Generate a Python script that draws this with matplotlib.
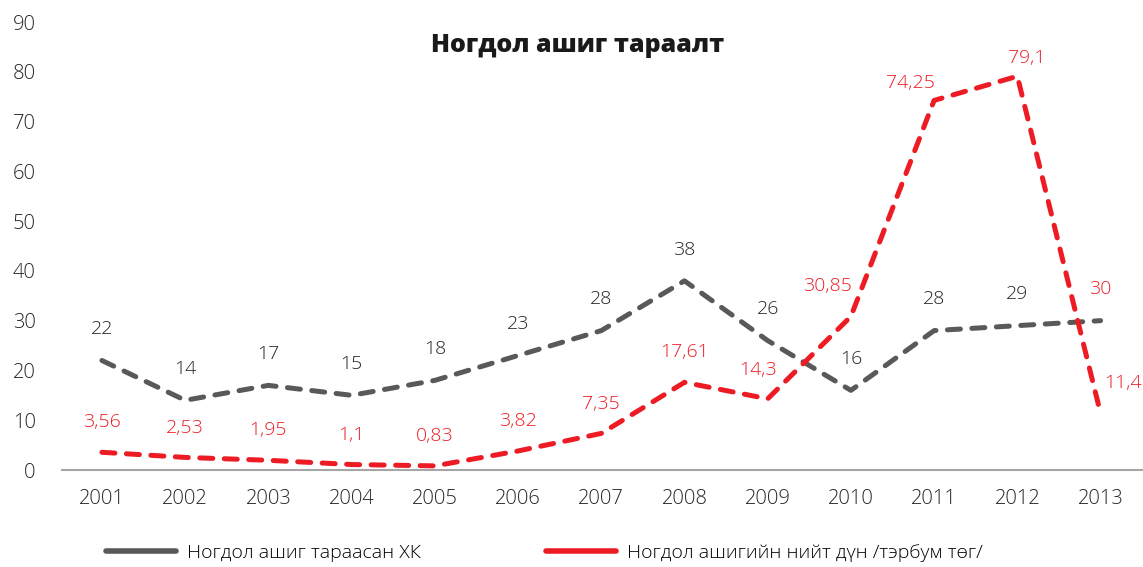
import matplotlib.pyplot as plt
from matplotlib.lines import Line2D

years = ['2001', '2002', '2003', '2004', '2005', '2006', '2007',
         '2008', '2009', '2010', '2011', '2012', '2013']
companies = [22, 14, 17, 15, 18, 23, 28, 38, 26, 16, 28, 29, 30]
dividends = [3.56, 2.53, 1.95, 1.1, 0.83, 3.82, 7.35, 17.61, 14.3, 30.85, 74.25, 79.1, 11.4]

# label offsets in points (dx, dy)
gray_off = [(0, 22.5)] * 13
red_off = [(0, 21.5)] * 8 + [(-7, 21), (-17, 22), (-17, 12.5), (6.5, 13), (16.5, 22)]

GRAY = '#595959'
RED = '#ED1C24'

plt.rcParams['font.family'] = ['Open Sans', 'DejaVu Sans']
plt.rcParams['font.weight'] = 'light'

fig = plt.figure(figsize=(11.43, 5.67), dpi=100)
ax = fig.add_axes([62 / 1143, 97 / 567, 1081 / 1143, 448 / 567])

x = list(range(len(years)))
ax.plot(x, companies, color=GRAY, lw=3.6, dashes=(2.6, 2.3),
        dash_capstyle='round', solid_capstyle='round', zorder=3)
ax.plot(x, dividends, color=RED, lw=3.6, dashes=(2.6, 2.3),
        dash_capstyle='round', solid_capstyle='round', zorder=4)

for i, v in enumerate(companies):
    col = RED if i == len(companies) - 1 else '#262626'
    ax.annotate(str(v), (i, v), xytext=gray_off[i], textcoords='offset points',
                ha='center', va='center', fontsize=14, color=col)
for i, v in enumerate(dividends):
    txt = ('%g' % v).replace('.', ',')
    ax.annotate(txt, (i, v), xytext=red_off[i], textcoords='offset points',
                ha='center', va='center', fontsize=14, color=RED)

ax.set_xlim(-0.48, 12.51)
ax.set_ylim(0, 90)
ax.set_yticks(range(0, 91, 10))
ax.set_xticks(x)
ax.set_xticklabels(years)
ax.tick_params(axis='both', length=0, labelsize=14.5, colors='#262626')
ax.tick_params(axis='y', pad=19)
ax.tick_params(axis='x', pad=14)
for s in ['top', 'right', 'left']:
    ax.spines[s].set_visible(False)
ax.spines['bottom'].set_color('#A6A6A6')
ax.spines['bottom'].set_linewidth(1.5)

fig.text(0.505, 0.92, 'Ногдол ашиг тараалт', ha='center', va='center',
         fontsize=18, fontweight='heavy', color='#1a1a1a')

handles = [Line2D([], [], color=GRAY, lw=4, solid_capstyle='round'),
           Line2D([], [], color=RED, lw=4, solid_capstyle='round')]
fig.legend(handles, ['Ногдол ашиг тараасан ХК', 'Ногдол ашигийн нийт дүн /тэрбум төг/'],
           loc='center left', bbox_to_anchor=(0.077, 0.025), ncol=2, frameon=False,
           fontsize=14, handlelength=3.6, handletextpad=0.6, columnspacing=6.4)

fig.savefig('out.png', dpi=100)
